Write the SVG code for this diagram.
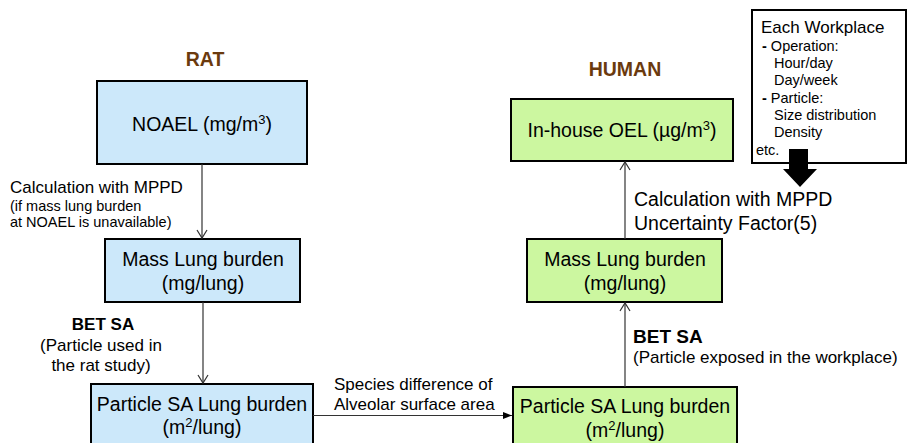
<svg xmlns="http://www.w3.org/2000/svg" width="909" height="443" viewBox="0 0 909 443">
<style>
text{font-family:"Liberation Sans",Arial,sans-serif;fill:#000}
.title{font-size:19.5px;font-weight:bold;fill:#6B3A0E;text-anchor:middle}
.rat rect{fill:#CCE8FA;stroke:#000;stroke-width:2}
.hum rect{fill:#CCF7A0;stroke:#000;stroke-width:2}
.nt{font-size:19.5px;text-anchor:middle}
.lbl{font-size:17px}
.sm{font-size:14.5px}
.b{font-weight:bold}
.c{stroke:#333;stroke-width:1.2;fill:none}
</style>
<defs>
<marker id="open" markerWidth="12" markerHeight="12" refX="10" refY="6" orient="auto" markerUnits="userSpaceOnUse">
<path d="M2,1 L10,6 L2,11" fill="none" stroke="#333" stroke-width="1.2"/>
</marker>
<marker id="fill" markerWidth="10" markerHeight="10" refX="9" refY="5" orient="auto" markerUnits="userSpaceOnUse">
<path d="M0,1.5 L9,5 L0,8.5 Z" fill="#000"/>
</marker>
</defs>
<text class="title" x="205" y="66">RAT</text>
<text class="title" x="625" y="76">HUMAN</text>
<g id="noael" class="rat"><rect x="97" y="81" width="210" height="83"/><text class="nt" x="202" y="131">NOAEL (mg/m<tspan font-size="13" dy="-7">3</tspan><tspan dy="7">)</tspan></text></g>
<g id="rat-mass" class="rat"><rect x="105" y="239" width="195" height="63"/><text class="nt" x="203" y="266">Mass Lung burden</text><text class="nt" x="203" y="290">(mg/lung)</text></g>
<g id="rat-sa" class="rat"><rect x="91" y="384" width="222" height="70"/><text class="nt" x="202" y="411">Particle SA Lung burden</text><text class="nt" x="202" y="434">(m<tspan font-size="13" dy="-7">2</tspan><tspan dy="7">/lung)</tspan></text></g>
<g id="oel" class="hum"><rect x="511" y="99" width="222" height="62"/><text class="nt" x="622" y="137">In-house OEL (µg/m<tspan font-size="13" dy="-7">3</tspan><tspan dy="7">)</tspan></text></g>
<g id="hum-mass" class="hum"><rect x="527" y="239" width="195" height="63"/><text class="nt" x="625" y="266">Mass Lung burden</text><text class="nt" x="625" y="290">(mg/lung)</text></g>
<g id="hum-sa" class="hum"><rect x="513" y="387" width="224" height="70"/><text class="nt" x="625" y="413">Particle SA Lung burden</text><text class="nt" x="625" y="437">(m<tspan font-size="13" dy="-7">2</tspan><tspan dy="7">/lung)</tspan></text></g>
<g id="workplace">
<rect x="752" y="10" width="154" height="153" fill="#fff" stroke="#000" stroke-width="2"/>
<text x="761" y="33" font-size="17">Each Workplace</text>
<text class="sm" x="762" y="51"><tspan class="b">-</tspan> Operation:</text>
<text class="sm" x="774" y="68">Hour/day</text>
<text class="sm" x="774" y="85">Day/week</text>
<text class="sm" x="762" y="103"><tspan class="b">-</tspan> Particle:</text>
<text class="sm" x="774" y="120">Size distribution</text>
<text class="sm" x="774" y="137">Density</text>
<text class="sm" x="756" y="155">etc.</text>
<path d="M789,149 H808 V169 H817 L800,187 L783,169 H789 Z" fill="#000"/>
</g>
<g id="connectors">
<line class="c" x1="202" y1="164" x2="202" y2="238" marker-end="url(#open)"/>
<line class="c" x1="203" y1="302" x2="203" y2="383" marker-end="url(#open)"/>
<line class="c" x1="313" y1="415.5" x2="512" y2="415.5" marker-end="url(#fill)"/>
<line class="c" x1="625" y1="387" x2="625" y2="303" marker-end="url(#open)"/>
<line class="c" x1="625" y1="239" x2="625" y2="162" marker-end="url(#open)"/>
</g>
<g id="labels">
<text x="10" y="193" font-size="17">Calculation with MPPD</text>
<text class="sm" x="10" y="211">(if mass lung burden</text>
<text class="sm" x="10" y="227">at NOAEL is unavailable)</text>
<text class="lbl b" x="103" y="330" text-anchor="middle">BET SA</text>
<text class="lbl" x="101" y="351" text-anchor="middle">(Particle used in</text>
<text class="lbl" x="101" y="371" text-anchor="middle">the rat study)</text>
<text class="lbl" x="334" y="390">Species difference of</text>
<text class="lbl" x="334" y="410">Alveolar surface area</text>
<text x="634" y="206" font-size="19.5">Calculation with MPPD</text>
<text x="634" y="230" font-size="19.5">Uncertainty Factor(5)</text>
<text x="633" y="343" font-size="19" font-weight="bold">BET SA</text>
<text class="lbl" x="633" y="363">(Particle exposed in the workplace)</text>
</g>
</svg>
